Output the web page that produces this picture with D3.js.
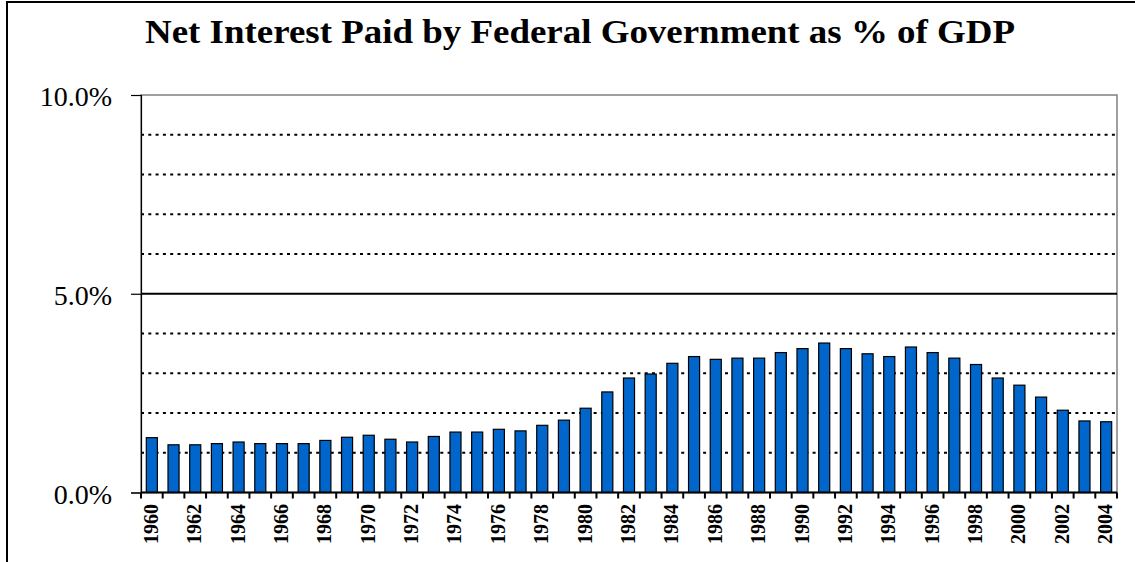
<!DOCTYPE html>
<html>
<head>
<meta charset="utf-8">
<script src="https://cdn.jsdelivr.net/npm/d3@7"></script>
<style>
  html, body { margin: 0; padding: 0; background: #fff; }
  svg { display: block; }
</style>
</head>
<body>
<svg id="chart" width="1135" height="562"></svg>
<script>
// Net interest outlays as a share of GDP, fiscal years 1960-2004
const years = [1960,1961,1962,1963,1964,1965,1966,1967,1968,1969,
               1970,1971,1972,1973,1974,1975,1976,1977,1978,1979,
               1980,1981,1982,1983,1984,1985,1986,1987,1988,1989,
               1990,1991,1992,1993,1994,1995,1996,1997,1998,1999,
               2000,2001,2002,2003,2004];
const interestPct = [1.38,1.20,1.20,1.23,1.27,1.23,1.23,1.23,1.31,1.39,
                     1.44,1.34,1.27,1.41,1.52,1.52,1.59,1.55,1.69,1.82,
                     2.12,2.53,2.88,2.98,3.25,3.42,3.35,3.38,3.38,3.52,
                     3.62,3.76,3.62,3.49,3.42,3.66,3.52,3.38,3.22,2.88,
                     2.70,2.40,2.07,1.80,1.78];
const yTicks = [0, 5, 10];
const gridValues = [1, 2, 3, 4, 6, 7, 8, 9];
const labelYears = years.filter(y => (y - 1960) % 2 === 0);
const titleText = "Net Interest Paid by Federal Government as % of GDP";

const svg = d3.select("#chart");
const plot = { left: 141, right: 1117, top: 95, bottom: 492.5 };

// outer chart frame
svg.append("rect")
  .attr("x", 7).attr("y", 2)
  .attr("width", 1140).attr("height", 570)
  .attr("fill", "none").attr("stroke", "#000").attr("stroke-width", 2);

const x = d3.scaleBand()
  .domain(years)
  .range([plot.left, plot.right])
  .paddingInner(0.49)
  .paddingOuter(0.245);

const y = d3.scaleLinear().domain([0, 10]).range([plot.bottom, plot.top]);

// title, stretched across the chart width
svg.append("text")
  .attr("x", 145).attr("y", 43)
  .attr("text-anchor", "start")
  .attr("font-family", "'Liberation Serif', 'Times New Roman', serif")
  .attr("font-weight", "bold")
  .attr("font-size", 33)
  .attr("textLength", 870)
  .attr("lengthAdjust", "spacingAndGlyphs")
  .text(titleText);

// plot area border (top/right)
svg.append("rect")
  .attr("x", plot.left).attr("y", plot.top)
  .attr("width", plot.right - plot.left).attr("height", plot.bottom - plot.top)
  .attr("fill", "none").attr("stroke", "#808080").attr("stroke-width", 1.5);

// dotted gridlines
svg.append("g").selectAll("line")
  .data(gridValues)
  .join("line")
  .attr("x1", plot.left).attr("x2", plot.right)
  .attr("y1", d => y(d)).attr("y2", d => y(d))
  .attr("stroke", "#000").attr("stroke-width", 2)
  .attr("stroke-dasharray", "3,4.3");

// solid line at 5%
svg.append("line")
  .attr("x1", plot.left).attr("x2", plot.right)
  .attr("y1", y(5)).attr("y2", y(5))
  .attr("stroke", "#000").attr("stroke-width", 2);

// bars
svg.append("g").selectAll("rect")
  .data(years.map((yr, i) => ({ yr, v: interestPct[i] })))
  .join("rect")
  .attr("x", d => x(d.yr))
  .attr("y", d => y(d.v))
  .attr("width", x.bandwidth())
  .attr("height", d => y(0) - y(d.v))
  .attr("fill", "#0066CC")
  .attr("stroke", "#000").attr("stroke-width", 1.2);

// y axis
const yAxis = d3.axisLeft(y)
  .tickValues(yTicks)
  .tickSize(10)
  .tickPadding(19)
  .tickFormat(d => d3.format(".1f")(d) + "%");
const gy = svg.append("g").attr("transform", `translate(${plot.left},0)`).call(yAxis);
gy.select(".domain").attr("stroke", "#000").attr("stroke-width", 1.2);
gy.selectAll(".tick line").attr("stroke", "#000").attr("stroke-width", 1.2);
gy.selectAll(".tick text")
  .attr("font-family", "'Liberation Serif', 'Times New Roman', serif")
  .attr("font-size", 28)
  .attr("fill", "#000")
  .attr("dy", "0.38em");

// x axis line and ticks at category boundaries
svg.append("line")
  .attr("x1", plot.left).attr("x2", plot.right)
  .attr("y1", plot.bottom).attr("y2", plot.bottom)
  .attr("stroke", "#000").attr("stroke-width", 2);

const boundaries = years.map(yr => x(yr) + x.bandwidth() / 2 - x.step() / 2)
  .concat([x(years[years.length - 1]) + x.bandwidth() / 2 + x.step() / 2]);
svg.append("g").selectAll("line")
  .data(boundaries)
  .join("line")
  .attr("x1", d => d).attr("x2", d => d)
  .attr("y1", plot.bottom).attr("y2", plot.bottom + 6)
  .attr("stroke", "#000").attr("stroke-width", 2);

// rotated year labels
svg.append("g").selectAll("text")
  .data(labelYears)
  .join("text")
  .attr("transform", d => `translate(${x(d) + x.bandwidth() / 2 - 1},504) rotate(-90)`)
  .attr("text-anchor", "end")
  .attr("dy", "0.35em")
  .attr("font-family", "'Liberation Serif', 'Times New Roman', serif")
  .attr("font-weight", "bold")
  .attr("font-size", 20)
  .text(d => d);
</script>
</body>
</html>
